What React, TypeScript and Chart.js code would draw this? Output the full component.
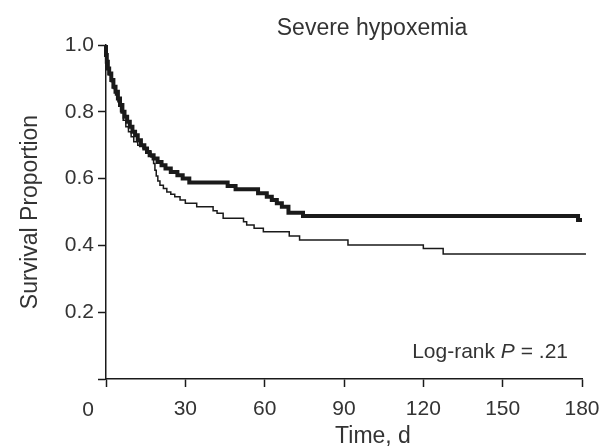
import React, { useEffect, useRef } from "react";
import { Chart, registerables } from "chart.js";

Chart.register(...registerables);

// Kaplan-Meier curves (time in days, survival proportion)
const thickTimes = [0, 0.3, 0.7, 1.2, 2.0, 2.8, 3.6, 4.5, 5.3, 6.2, 7.0, 8.0, 9.0, 10.0, 11.0, 12.0, 13.2, 14.5, 15.5, 16.5, 18.0, 19.5, 21.0, 22.5, 24.5, 27.0, 29.0, 31.5, 46.0, 49.0, 57.5, 60.8, 62.7, 64.6, 66.5, 69.0, 74.5, 178.5, 180.0, 181.5];
const thickSurv = [1.0, 0.97, 0.95, 0.93, 0.915, 0.895, 0.875, 0.86, 0.84, 0.82, 0.8, 0.785, 0.77, 0.755, 0.74, 0.73, 0.715, 0.7, 0.69, 0.68, 0.67, 0.66, 0.65, 0.64, 0.63, 0.62, 0.61, 0.6, 0.588, 0.578, 0.568, 0.556, 0.546, 0.536, 0.526, 0.516, 0.498, 0.488, 0.476, 0.476];

const thinTimes = [0, 0.3, 0.7, 1.2, 2.0, 2.8, 3.6, 4.5, 5.5, 6.5, 7.5, 8.5, 9.5, 10.5, 12.0, 14.0, 16.0, 17.0, 18.0, 18.5, 19.0, 19.6, 20.4, 21.7, 23.0, 24.5, 26.0, 28.0, 30.0, 34.3, 40.5, 42.0, 44.3, 52.0, 53.2, 56.0, 59.5, 69.3, 73.2, 91.5, 120.0, 127.5, 143.3, 181.5];
const thinSurv = [1.0, 0.97, 0.95, 0.93, 0.91, 0.89, 0.87, 0.85, 0.83, 0.8, 0.775, 0.755, 0.74, 0.725, 0.71, 0.7, 0.69, 0.68, 0.665, 0.645, 0.625, 0.608, 0.593, 0.58, 0.57, 0.56, 0.553, 0.546, 0.536, 0.526, 0.516, 0.504, 0.496, 0.481, 0.471, 0.461, 0.451, 0.441, 0.428, 0.416, 0.401, 0.391, 0.374, 0.374];

const xTicks = [0, 30, 60, 90, 120, 150, 180];
const yTicks = [0, 0.2, 0.4, 0.6, 0.8, 1.0];

const titleText = "Severe hypoxemia";
const xTitle = "Time, d";
const yTitle = "Survival Proportion";
const cornerLabel = "0";
const statPrefix = "Log-rank ";
const statItalic = "P";
const statSuffix = " = .21";

const FONT = "'Liberation Sans', Arial, Helvetica, sans-serif";
const TEXT = "#333333";
const LINE = "#1a1a1a";

const toPoints = (ts: number[], ss: number[]) => ts.map((t, i) => ({ x: t, y: ss[i] }));

const textPlugin = {
  id: "extraText",
  afterDraw(chart: any) {
    const { ctx } = chart;
    ctx.save();
    ctx.fillStyle = TEXT;
    ctx.font = `23px ${FONT}`;
    ctx.textAlign = "center";
    ctx.textBaseline = "alphabetic";
    ctx.fillText(titleText, 372, 35);
    ctx.fillText(xTitle, 373, 443);
    ctx.font = `21px ${FONT}`;
    ctx.textBaseline = "middle";
    ctx.fillText(cornerLabel, 88, 410);
    const right = 568;
    const y = 352;
    ctx.font = `21px ${FONT}`;
    const wSuf = ctx.measureText(statSuffix).width;
    ctx.font = `italic 21px ${FONT}`;
    const wIt = ctx.measureText(statItalic).width;
    ctx.font = `21px ${FONT}`;
    const wPre = ctx.measureText(statPrefix).width;
    ctx.textAlign = "left";
    let x = right - wSuf - wIt - wPre;
    ctx.fillText(statPrefix, x, y);
    x += wPre;
    ctx.font = `italic 21px ${FONT}`;
    ctx.fillText(statItalic, x, y);
    x += wIt;
    ctx.font = `21px ${FONT}`;
    ctx.fillText(statSuffix, x, y);
    ctx.restore();
  },
};

export default function App() {
  const ref = useRef<HTMLCanvasElement | null>(null);
  useEffect(() => {
    if (!ref.current) return;
    const chart = new Chart(ref.current, {
      type: "line",
      data: {
        datasets: [
          {
            data: toPoints(thinTimes, thinSurv),
            borderColor: LINE,
            borderWidth: 1.5,
            stepped: "after",
            pointRadius: 0,
            fill: false,
            clip: false as any,
          },
          {
            data: toPoints(thickTimes, thickSurv),
            borderColor: LINE,
            borderWidth: 4,
            stepped: "after",
            pointRadius: 0,
            fill: false,
            clip: false as any,
          },
        ],
      },
      options: {
        animation: false,
        responsive: false,
        devicePixelRatio: 1,
        layout: { padding: { top: 45, right: 20, left: 0, bottom: 0 } },
        plugins: {
          legend: { display: false },
          tooltip: { enabled: false },
          title: { display: false },
        },
        scales: {
          x: {
            type: "linear",
            min: 0,
            max: 180,
            afterBuildTicks: (scale: any) => {
              scale.ticks = xTicks.map((v) => ({ value: v }));
            },
            afterFit: (scale: any) => {
              scale.height = 68;
              scale.paddingLeft = 0;
              scale.paddingRight = 0;
            },
            ticks: {
              autoSkip: false,
              maxRotation: 0,
              padding: 10,
              color: TEXT,
              font: { family: FONT, size: 21 },
              callback: (v: any) => (v === 0 ? "" : String(v)),
            },
            grid: {
              display: true,
              drawOnChartArea: false,
              drawTicks: true,
              tickLength: 8,
              tickColor: LINE,
              tickWidth: 1.5,
            },
            border: { display: true, color: LINE, width: 1.5 },
          },
          y: {
            type: "linear",
            min: 0,
            max: 1,
            afterBuildTicks: (scale: any) => {
              scale.ticks = yTicks.map((v) => ({ value: v }));
            },
            afterFit: (scale: any) => {
              scale.width = 106;
              scale.paddingTop = 0;
              scale.paddingBottom = 0;
            },
            ticks: {
              autoSkip: false,
              padding: 4,
              color: TEXT,
              font: { family: FONT, size: 21 },
              callback: (v: any) => (v === 0 ? "" : Number(v).toFixed(1)),
            },
            grid: {
              display: true,
              drawOnChartArea: false,
              drawTicks: true,
              tickLength: 8,
              tickColor: LINE,
              tickWidth: 1.5,
            },
            border: { display: true, color: LINE, width: 1.5 },
            title: {
              display: true,
              text: yTitle,
              color: TEXT,
              font: { family: FONT, size: 23 },
              padding: { top: 17, bottom: 0 },
            },
          },
        },
      },
      plugins: [textPlugin],
    });
    return () => chart.destroy();
  }, []);
  return (
    <div style={{ position: "fixed", left: 0, top: 0, width: 602, height: 447, background: "#fff" }}>
      <canvas ref={ref} width={602} height={447} style={{ width: 602, height: 447, display: "block" }} />
    </div>
  );
}
